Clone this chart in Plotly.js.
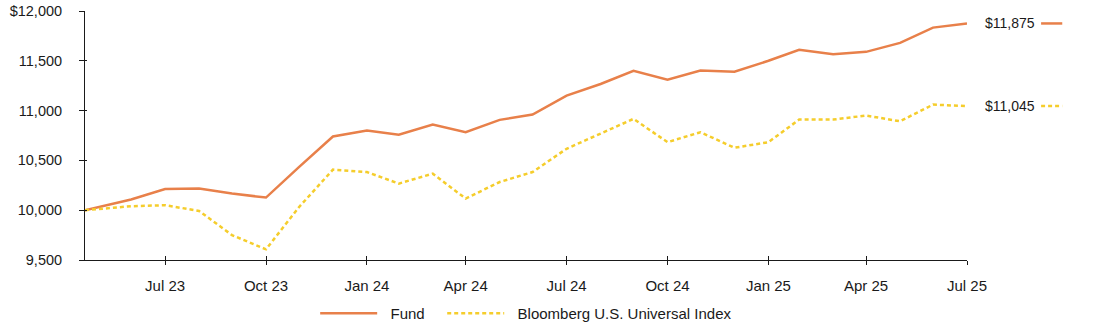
<!DOCTYPE html>
<html>
<head>
<meta charset="utf-8">
<script src="https://cdn.plot.ly/plotly-3.0.1.min.js"></script>
<style>html,body{margin:0;padding:0;background:#fff;}#chart{width:1094px;height:327px;}</style>
</head>
<body>
<div id="chart"></div>
<script>
const dates = ["2023-05-19","2023-06-30","2023-07-31","2023-08-31","2023-09-30","2023-10-31","2023-11-30","2023-12-31",
  "2024-01-31","2024-02-29","2024-03-31","2024-04-30","2024-05-31","2024-06-30","2024-07-31","2024-08-31","2024-09-30",
  "2024-10-31","2024-11-30","2024-12-31","2025-01-31","2025-02-28","2025-03-31","2025-04-30","2025-05-31","2025-06-30","2025-07-31"];
const fundValues = [10000,10107,10213,10217,10167,10127,10433,10740,10800,10757,10860,10783,10907,10960,11150,11267,11400,
  11310,11403,11390,11500,11610,11567,11590,11680,11833,11875];
const indexValues = [10000,10040,10050,9993,9750,9607,10030,10407,10383,10267,10367,10117,10283,10383,10617,10767,10917,
  10683,10783,10627,10683,10910,10910,10950,10893,11060,11045];
const seriesNames = ["Fund","Bloomberg U.S. Universal Index"];
const xTickVals = ["2023-07-31","2023-10-31","2024-01-31","2024-04-30","2024-07-31","2024-10-31","2025-01-31","2025-04-30","2025-07-31"];
const xTickText = ["Jul 23","Oct 23","Jan 24","Apr 24","Jul 24","Oct 24","Jan 25","Apr 25","Jul 25"];
const yTickVals = [9500,10000,10500,11000,11500,12000];
const yTickText = ["9,500","10,000","10,500","11,000","11,500","$12,000"];

const fundColor = "#E8804A";
const indexColor = "#F5CD2C";
const FAM = "Liberation Sans, Arial, sans-serif";
const xFont = {family:FAM, size:15, color:"#1a1a1a"};
const yFont = {family:FAM, size:14.5, color:"#1a1a1a"};
const endFont = {family:FAM, size:14, color:"#1a1a1a"};
const fmt = v => "$" + v.toLocaleString("en-US");
const pad = (s) => "\u00a0\u00a0" + s + "\u00a0\u00a0\u00a0";
const xRange = [dates[0], dates[dates.length-1]];
const yRange = [9500, 12000];

const traces = [
  {x:dates, y:fundValues, name:pad(seriesNames[0]), type:"scatter", mode:"lines", line:{color:fundColor, width:2.5}, hoverinfo:"skip"},
  {x:dates, y:indexValues, name:pad(seriesNames[1]), type:"scatter", mode:"lines", line:{color:indexColor, width:2.5, dash:"4px,3px"}, hoverinfo:"skip"},
  {x:dates, y:fundValues, xaxis:"x2", yaxis:"y2", showlegend:false, type:"scatter", mode:"lines", opacity:0, line:{width:0}, hoverinfo:"skip"}
];

const lastF = fundValues[fundValues.length-1];
const lastI = indexValues[indexValues.length-1];

const layout = {
  width:1094, height:327,
  margin:{l:85, r:127, t:11, b:67, autoexpand:false},
  paper_bgcolor:"#fff", plot_bgcolor:"#fff",
  font:xFont,
  showlegend:true,
  legend:{orientation:"h", x:0.507, xanchor:"center", y:-0.215, yanchor:"middle", font:xFont, itemwidth:57, traceorder:"normal"},
  xaxis:{type:"date", range:xRange, tickvals:xTickVals, ticktext:xTickText, showgrid:false, zeroline:false,
    showline:true, linecolor:"#1a1a1a", linewidth:1, ticks:"outside", ticklen:4, tickcolor:"#1a1a1a", ticklabelstandoff:8, tickfont:xFont},
  yaxis:{range:yRange, tickvals:yTickVals, ticktext:yTickText, showgrid:false, zeroline:false,
    showline:true, linecolor:"#1a1a1a", linewidth:1, ticks:"outside", ticklen:5, tickcolor:"#1a1a1a", ticklabelstandoff:14, tickfont:yFont},
  xaxis2:{type:"date", range:xRange, overlaying:"x", tickvals:xTickVals, showticklabels:false, showgrid:false, zeroline:false,
    ticks:"inside", ticklen:4, tickcolor:"#1a1a1a", showline:false},
  yaxis2:{range:yRange, overlaying:"y", tickvals:yTickVals, showticklabels:false, showgrid:false, zeroline:false,
    ticks:"inside", ticklen:2, tickcolor:"#1a1a1a", showline:false},
  annotations:[
    {x:dates[dates.length-1], y:lastF, xref:"x", yref:"y", text:fmt(lastF), showarrow:false, xanchor:"left", yanchor:"middle", xshift:16, font:endFont},
    {x:dates[dates.length-1], y:lastI, xref:"x", yref:"y", text:fmt(lastI), showarrow:false, xanchor:"left", yanchor:"middle", xshift:16, font:endFont}
  ],
  shapes:[
    {type:"line", xref:"paper", yref:"y", x0:1.084, x1:1.108, y0:lastF, y1:lastF, line:{color:fundColor, width:2.5}},
    {type:"line", xref:"paper", yref:"y", x0:1.084, x1:1.108, y0:lastI, y1:lastI, line:{color:indexColor, width:2.5, dash:"4px,3px"}}
  ]
};

Plotly.newPlot("chart", traces, layout, {displayModeBar:false, staticPlot:true});
</script>
</body>
</html>
